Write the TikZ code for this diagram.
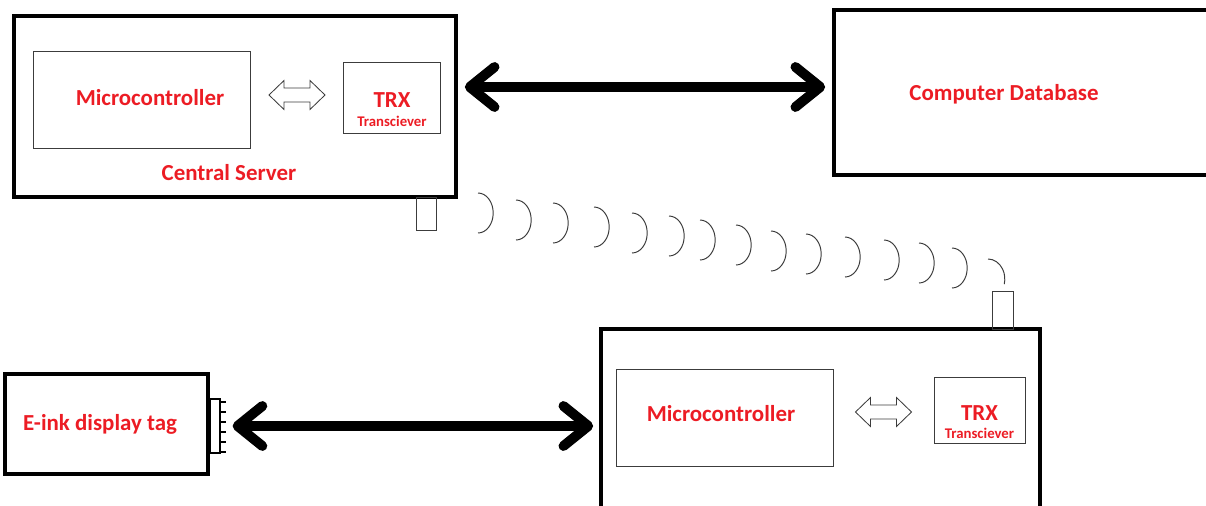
\documentclass[tikz,border=0pt]{standalone}
\usepackage{fontspec}
\setmainfont{Carlito}
\usetikzlibrary{arrows.meta}
\definecolor{labelred}{RGB}{236,28,36}
\definecolor{thinline}{RGB}{60,60,60}

\begin{document}
\begin{tikzpicture}[x=0.025cm,y=-0.025cm,
  unit/.style={draw,line width=2.5pt,inner sep=0pt},
  block/.style={draw=thinline,line width=0.7pt,inner sep=0pt},
  antenna/.style={draw=thinline,line width=0.7pt,inner sep=0pt},
  boxtext/.style={text=labelred,font=\fontsize{16.3}{19}\selectfont\bfseries},
  subtext/.style={text=labelred,font=\fontsize{10.5}{12}\selectfont\bfseries},
  link/.style={line width=7pt,{Straight Barb[length=0.62cm,width=1cm,round]}-{Straight Barb[length=0.62cm,width=1cm,round]}},
  wave/.style={thinline,line width=0.7pt},
  duplex/.pic={\draw[thinline,line width=0.6pt] (-28,0) -- (-13,-14.5) -- (-13,-7) -- (13,-7) -- (13,-14.5) -- (28,0) -- (13,14.5) -- (13,7) -- (-13,7) -- (-13,14.5) -- cycle;}]
\useasboundingbox (0,0) rectangle (1206,506);
% central server
\node[unit,minimum width=11.05cm,minimum height=4.525cm] (server) at (235,106.5) {};
\node[block,minimum width=5.4cm,minimum height=2.4cm,label={[boxtext,xshift=0.2cm,yshift=0.05cm]center:Microcontroller}] (servermcu) at (142,100) {};
\node[block,minimum width=2.4cm,minimum height=1.75cm] (servertrx) at (392,98) {};
\node[boxtext] (servertrxname) at ([yshift=-0.06cm]servertrx) {TRX};
\node[subtext] (servertrxsub) at ([yshift=-0.575cm]servertrx) {Transciever};
\node[boxtext] (servername) at (229,173) {Central Server};
\pic at (297,95) {duplex};
\node[antenna,minimum width=0.5cm,minimum height=0.825cm] (serverant) at (426,213.5) {};
% database
\node[unit,minimum width=10cm,minimum height=4.125cm] (database) at (1034,92.5) {};
\node[boxtext] (databasename) at (1004,94) {Computer Database};
\draw[link,shorten <=0.175cm,shorten >=0.175cm] (server.east |- 0,87) -- (database.west |- 0,87);
% receiver unit
\node[unit,minimum width=10.975cm,minimum height=4.8cm] (rx) at (820.5,425) {};
\node[block,minimum width=5.4cm,minimum height=2.4cm,label={[boxtext,xshift=-0.1cm,yshift=0.1cm]center:Microcontroller}] (rxmcu) at (725,418) {};
\node[block,minimum width=2.275cm,minimum height=1.65cm] (rxtrx) at (979.5,410) {};
\node[boxtext] (rxtrxname) at ([yshift=-0.07cm]rxtrx) {TRX};
\node[subtext] (rxtrxsub) at ([yshift=-0.575cm]rxtrx) {Transciever};
\pic at (883.5,412) {duplex};
\node[antenna,minimum width=0.525cm,minimum height=0.95cm] (rxant) at (1002.5,310) {};
% e-ink tag with its port
\node[unit,minimum width=5.075cm,minimum height=2.5cm,label={[boxtext,xshift=-0.16cm]center:E-ink display tag}] (tag) at (106.5,424) {};
\node[draw,line width=0.9pt,inner sep=0pt,minimum width=0.25cm,minimum height=1.35cm] (port) at (215,426) {};
\foreach \y in {402,412,...,452} \draw[line width=1pt] (220,\y) -- (226,\y);
\draw[link,shorten <=0.3cm,shorten >=0.15cm] (port.east) -- (port.east -| rx.west);
% radio link
\foreach \x/\y in {478/193,516/200,553/203,594/207,632/213,669/216,700/220,736/225,771/231,806/234,845/237,884/240,919/243,952/248}
  \draw[wave] (\x,\y) arc[start angle=90,end angle=-90,x radius=0.38cm,y radius=0.5cm];
\draw[wave] (988,259) arc[start angle=90,end angle=-15,x radius=0.42cm,y radius=0.5cm];
\end{tikzpicture}
\end{document}
